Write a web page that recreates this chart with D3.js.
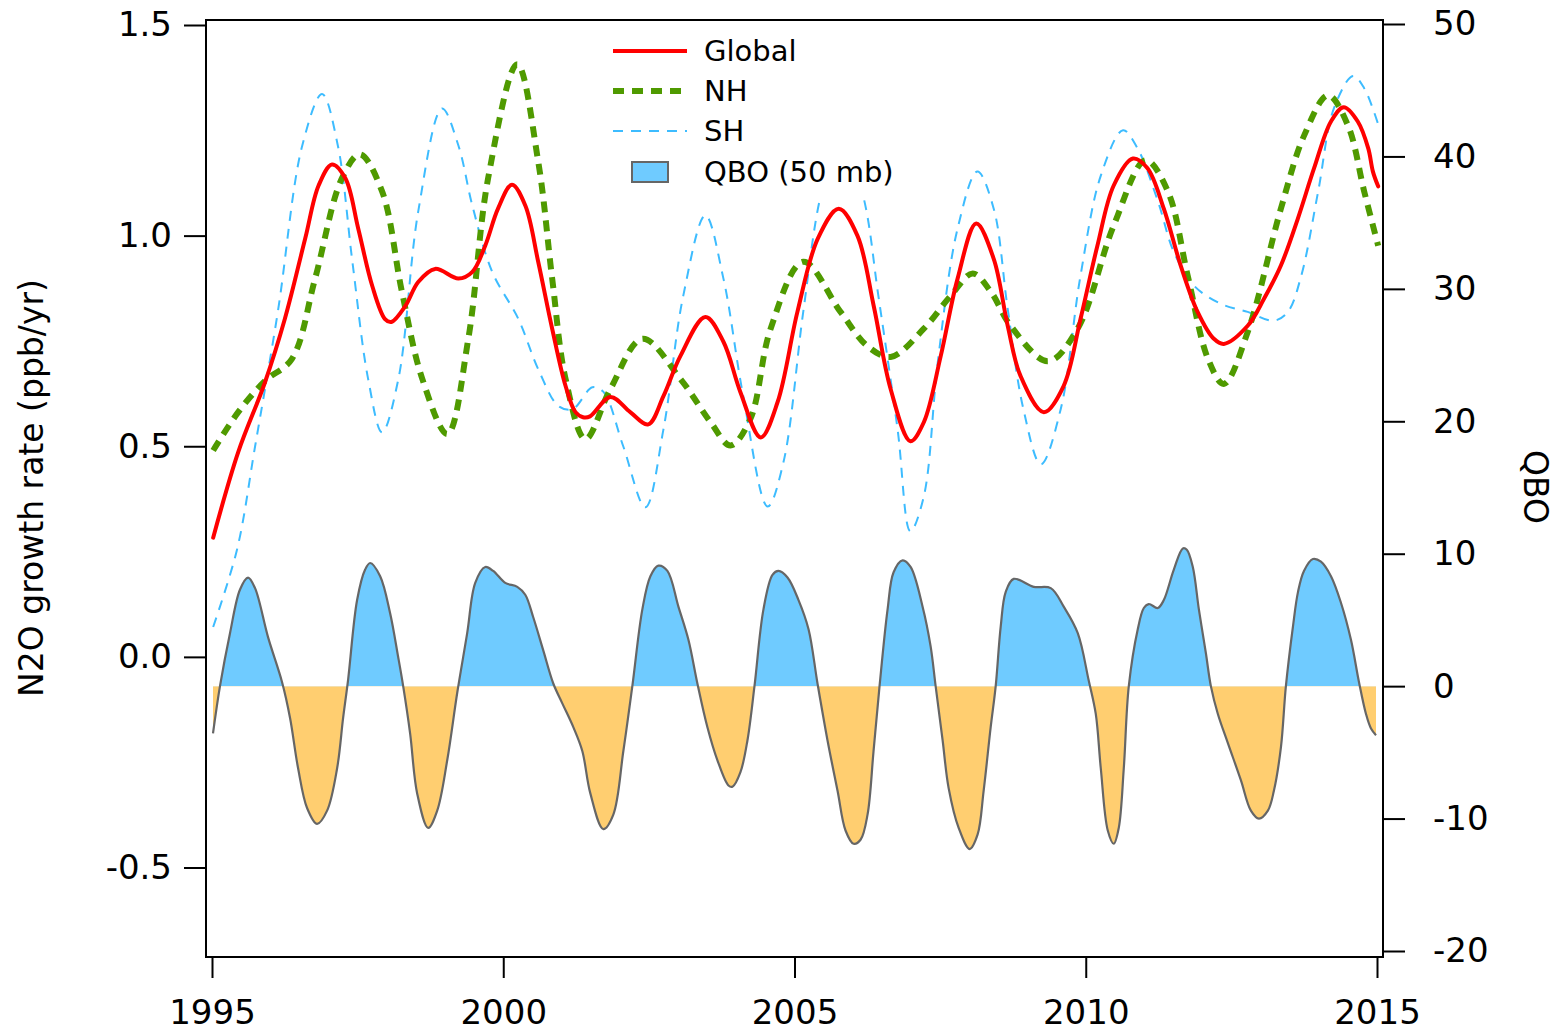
<!DOCTYPE html>
<html>
<head>
<meta charset="utf-8">
<script src="https://cdn.jsdelivr.net/npm/d3@7"></script>
<style>
  html, body { margin: 0; padding: 0; background: #fff; }
  svg { display: block; }
  text { font-family: "DejaVu Sans", sans-serif; fill: #000; }
</style>
</head>
<body>
<svg id="chart" width="1559" height="1035"></svg>
<script>
// ---------------- DATA ----------------
const xTicks = [1995, 2000, 2005, 2010, 2015];
const leftTicks = [-0.5, 0.0, 0.5, 1.0, 1.5];
const rightTicks = [-20, -10, 0, 10, 20, 30, 40, 50];

const globalYears = [1995.02,1995.45,1995.91,1996.25,1996.60,1996.83,1997.06,1997.29,1997.51,1997.75,1997.97,1998.08,1998.32,1998.54,1998.83,1999.23,1999.47,1999.69,1999.91,2000.15,2000.38,2000.60,2000.84,2001.07,2001.24,2001.37,2001.49,2001.84,2002.18,2002.49,2002.75,2003.04,2003.47,2003.78,2004.07,2004.42,2004.71,2005.05,2005.40,2005.76,2006.08,2006.36,2006.65,2006.99,2007.22,2007.51,2007.80,2008.12,2008.42,2008.66,2008.88,2009.28,2009.62,2009.91,2010.20,2010.48,2010.81,2011.06,2011.34,2011.63,2011.92,2012.20,2012.37,2012.78,2013.06,2013.35,2013.64,2013.92,2014.21,2014.43,2014.67,2014.85,2014.93,2015.02];
const globalValues = [0.283,0.486,0.652,0.802,0.993,1.119,1.169,1.136,1.017,0.881,0.802,0.795,0.833,0.89,0.921,0.898,0.914,0.976,1.064,1.121,1.071,0.938,0.779,0.643,0.581,0.569,0.571,0.617,0.581,0.552,0.619,0.714,0.807,0.748,0.629,0.521,0.605,0.819,0.993,1.064,1.0,0.833,0.636,0.512,0.557,0.714,0.898,1.029,0.945,0.786,0.667,0.581,0.643,0.802,0.976,1.119,1.183,1.16,1.064,0.929,0.819,0.755,0.743,0.786,0.85,0.929,1.04,1.16,1.271,1.305,1.271,1.207,1.152,1.117];

const nhYears = [1995.02,1995.45,1995.91,1996.37,1996.77,1997.23,1997.54,1997.92,1998.26,1998.61,1999.04,1999.40,1999.74,2000.24,2000.60,2000.84,2001.07,2001.41,2001.84,2002.39,2003.04,2003.56,2003.90,2004.24,2004.59,2005.15,2005.79,2006.25,2006.65,2007.22,2007.68,2008.06,2008.37,2008.71,2009.35,2009.86,2010.48,2011.03,2011.41,2011.75,2012.10,2012.37,2012.78,2013.35,2013.75,2014.16,2014.50,2014.78,2015.02];
const nhValues = [0.49,0.581,0.655,0.707,0.898,1.136,1.193,1.105,0.867,0.66,0.529,0.755,1.136,1.407,1.176,0.898,0.66,0.517,0.636,0.755,0.66,0.557,0.502,0.564,0.779,0.938,0.819,0.738,0.712,0.779,0.857,0.91,0.867,0.786,0.702,0.779,1.024,1.179,1.105,0.905,0.707,0.648,0.771,1.064,1.238,1.333,1.262,1.105,0.976];

const shYears = [1995.02,1995.43,1995.74,1996.13,1996.55,1996.89,1997.16,1997.41,1997.68,1997.92,1998.20,1998.54,1998.95,1999.23,1999.47,1999.81,2000.26,2000.60,2000.95,2001.19,2001.53,2001.72,2002.06,2002.44,2002.75,2003.09,2003.47,2003.78,2004.12,2004.54,2004.81,2005.15,2005.45,2005.81,2006.19,2006.44,2006.77,2006.99,2007.22,2007.46,2007.80,2008.14,2008.42,2008.66,2008.93,2009.23,2009.57,2009.91,2010.26,2010.64,2010.89,2011.24,2011.51,2011.86,2012.32,2012.78,2013.23,2013.47,2013.70,2013.99,2014.26,2014.59,2014.78,2015.03];
const shValues = [0.071,0.255,0.5,0.819,1.214,1.336,1.214,0.938,0.66,0.533,0.66,1.057,1.302,1.214,1.071,0.914,0.802,0.683,0.595,0.588,0.64,0.629,0.5,0.355,0.54,0.857,1.048,0.898,0.619,0.357,0.462,0.819,1.095,1.25,1.088,0.857,0.54,0.298,0.381,0.7,1.017,1.152,1.064,0.826,0.588,0.457,0.588,0.905,1.143,1.25,1.207,1.081,0.962,0.881,0.838,0.819,0.798,0.819,0.905,1.105,1.302,1.379,1.35,1.26];

const qboYears = [1995.017,1995.137,1995.309,1995.481,1995.619,1995.739,1995.962,1996.203,1996.340,1996.478,1996.632,1996.804,1996.976,1997.148,1997.251,1997.337,1997.491,1997.629,1997.715,1997.887,1998.058,1998.196,1998.282,1998.402,1998.522,1998.711,1998.866,1999.038,1999.210,1999.381,1999.519,1999.691,1999.828,2000.034,2000.241,2000.378,2000.515,2000.687,2000.859,2001.014,2001.203,2001.357,2001.495,2001.718,2001.890,2002.062,2002.216,2002.388,2002.526,2002.663,2002.818,2003.007,2003.179,2003.333,2003.505,2003.677,2003.866,2003.935,2004.072,2004.192,2004.313,2004.467,2004.622,2004.725,2004.880,2005.069,2005.241,2005.395,2005.567,2005.739,2005.876,2006.014,2006.134,2006.254,2006.357,2006.460,2006.598,2006.701,2006.856,2006.993,2007.199,2007.337,2007.423,2007.543,2007.646,2007.818,2008.007,2008.144,2008.247,2008.368,2008.454,2008.540,2008.625,2008.763,2009.107,2009.399,2009.622,2009.863,2010.052,2010.172,2010.258,2010.378,2010.481,2010.567,2010.653,2010.739,2010.893,2010.997,2011.082,2011.237,2011.340,2011.512,2011.667,2011.735,2011.838,2011.942,2012.062,2012.148,2012.268,2012.440,2012.663,2012.835,2012.973,2013.127,2013.230,2013.351,2013.436,2013.557,2013.643,2013.746,2013.900,2014.038,2014.210,2014.381,2014.553,2014.691,2014.811,2014.897,2014.983];
const qboValues = [-3.57,0,4.0,7.3,8.2,7.4,3.7,0.3,-2.4,-6.2,-9.2,-10.4,-9.4,-6.2,-2.4,0.5,6.5,8.8,9.3,8.3,5.5,2.2,0,-3.6,-8.1,-10.7,-9.4,-5.6,-0.5,4.0,7.8,9.0,8.7,7.8,7.5,6.9,5.2,2.7,0.2,-1.3,-3.1,-4.9,-8.1,-10.8,-9.7,-4.9,0,5.8,8.3,9.1,8.7,6.0,3.5,0.2,-3.1,-5.6,-7.5,-7.6,-6.5,-4.1,0,5.8,8.4,8.7,8.2,6.5,4.3,0.2,-4.1,-7.9,-10.9,-11.9,-11.6,-9.7,-4.9,0,5.8,8.6,9.5,9.0,6.0,3.0,0,-4.1,-7.7,-10.7,-12.3,-11.2,-7.9,-3.1,0,4.5,7.1,8.1,7.5,7.4,6.0,4.0,0.4,-2.1,-6.2,-10.9,-11.9,-10.7,-6.2,0,4.3,5.9,6.2,5.9,6.5,8.8,10.4,10.3,9.0,5.8,2.5,0,-2.1,-4.3,-7.1,-9.4,-10.0,-9.4,-7.9,-4.6,0,4.5,7.1,8.7,9.6,9.4,8.3,6.3,3.5,0.3,-2.1,-3.2,-3.7];

const legendLabels = ["Global", "NH", "SH", "QBO (50 mb)"];

// ---------------- CHART ----------------
const svg = d3.select("#chart");
const frame = {left: 206, right: 1383, top: 20, bottom: 957};

const x = d3.scaleLinear().domain([1995, 2015]).range([212, 1377]);
const yL = d3.scaleLinear().domain([-0.5, 1.5]).range([867.5, 25]);
const yR = d3.scaleLinear().domain([-20, 50]).range([951, 24]);

const colors = {global: "#ff0000", nh: "#4f9a00", sh: "#3dbcff", qboPos: "#6fcbff", qboNeg: "#ffce70", qboLine: "#666666"};
const smooth = d3.curveCatmullRom.alpha(0.5);

const defs = svg.append("defs");
defs.append("clipPath").attr("id", "plotClip").append("rect")
  .attr("x", frame.left).attr("y", frame.top)
  .attr("width", frame.right - frame.left).attr("height", frame.bottom - frame.top);
defs.append("clipPath").attr("id", "posClip").append("rect")
  .attr("x", frame.left).attr("y", frame.top)
  .attr("width", frame.right - frame.left).attr("height", yR(0) - frame.top);
defs.append("clipPath").attr("id", "negClip").append("rect")
  .attr("x", frame.left).attr("y", yR(0))
  .attr("width", frame.right - frame.left).attr("height", frame.bottom - yR(0));

const plot = svg.append("g").attr("clip-path", "url(#plotClip)");

// QBO fill
const qbo = qboYears.map((d, i) => ({x: d, v: qboValues[i]}));
const qboArea = d3.area().x(d => x(d.x)).y0(yR(0)).y1(d => yR(d.v)).curve(smooth);
const qboLine = d3.line().x(d => x(d.x)).y(d => yR(d.v)).curve(smooth);
plot.append("path").datum(qbo).attr("d", qboArea).attr("fill", colors.qboPos).attr("clip-path", "url(#posClip)");
plot.append("path").datum(qbo).attr("d", qboArea).attr("fill", colors.qboNeg).attr("clip-path", "url(#negClip)");
plot.append("path").datum(qbo).attr("d", qboLine).attr("fill", "none")
  .attr("stroke", colors.qboLine).attr("stroke-width", 2.2).attr("stroke-linejoin", "round");

// N2O series
const lineL = d3.line().x(d => x(d.x)).y(d => yL(d.v)).curve(smooth);
const toPts = (xs, vs) => xs.map((d, i) => ({x: d, v: vs[i]}));

plot.append("path").datum(toPts(shYears, shValues)).attr("d", lineL)
  .attr("fill", "none").attr("stroke", colors.sh).attr("stroke-width", 2)
  .attr("stroke-dasharray", "10,8");
plot.append("path").datum(toPts(nhYears, nhValues)).attr("d", lineL)
  .attr("fill", "none").attr("stroke", colors.nh).attr("stroke-width", 6)
  .attr("stroke-dasharray", "11,8");
plot.append("path").datum(toPts(globalYears, globalValues)).attr("d", lineL)
  .attr("fill", "none").attr("stroke", colors.global).attr("stroke-width", 4)
  .attr("stroke-linejoin", "round").attr("stroke-linecap", "round");

// Legend (opaque background)
const lg = svg.append("g");
lg.append("rect").attr("x", 598).attr("y", 26).attr("width", 318).attr("height", 172).attr("fill", "#fff");
const legRows = [
  {y: 51, type: "line", color: colors.global, w: 4, dash: null},
  {y: 91, type: "line", color: colors.nh, w: 6, dash: "11,8"},
  {y: 131, type: "line", color: colors.sh, w: 2, dash: "10,8"},
  {y: 172, type: "box"}
];
legRows.forEach((r, i) => {
  if (r.type === "line") {
    const l = lg.append("line").attr("x1", 613).attr("x2", 687).attr("y1", r.y).attr("y2", r.y)
      .attr("stroke", r.color).attr("stroke-width", r.w);
    if (r.dash) l.attr("stroke-dasharray", r.dash);
  } else {
    lg.append("rect").attr("x", 632).attr("y", 162).attr("width", 36).attr("height", 20)
      .attr("fill", colors.qboPos).attr("stroke", colors.qboLine).attr("stroke-width", 2);
  }
  lg.append("text").attr("x", 704).attr("y", r.y + 10).attr("font-size", 29).text(legendLabels[i]);
});

// Frame
svg.append("rect").attr("x", frame.left).attr("y", frame.top)
  .attr("width", frame.right - frame.left).attr("height", frame.bottom - frame.top)
  .attr("fill", "none").attr("stroke", "#000").attr("stroke-width", 2);

// Axes
const axL = svg.append("g").attr("transform", `translate(${frame.left},0)`)
  .call(d3.axisLeft(yL).tickValues(leftTicks).tickSize(22).tickPadding(12)
    .tickFormat(d => (d < 0 ? "-" : "") + Math.abs(d).toFixed(1)));
const axR = svg.append("g").attr("transform", `translate(${frame.right},0)`)
  .call(d3.axisRight(yR).tickValues(rightTicks).tickSize(22).tickPadding(28)
    .tickFormat(d => (d < 0 ? "-" : "") + Math.abs(d)));
const axB = svg.append("g").attr("transform", `translate(0,${frame.bottom})`)
  .call(d3.axisBottom(x).tickValues(xTicks).tickFormat(d3.format("d")).tickSize(21).tickPadding(22));

[axL, axR, axB].forEach(a => {
  a.select(".domain").remove();
  a.selectAll(".tick line").attr("stroke", "#000").attr("stroke-width", 2);
  a.selectAll(".tick text").attr("font-family", "DejaVu Sans, sans-serif").attr("font-size", 34).attr("fill", "#000");
});

// Axis titles
svg.append("text").attr("transform", "translate(43,488) rotate(-90)")
  .attr("text-anchor", "middle").attr("font-size", 33).text("N2O growth rate (ppb/yr)");
svg.append("text").attr("transform", "translate(1524,487) rotate(90)")
  .attr("text-anchor", "middle").attr("font-size", 33).text("QBO");
</script>
</body>
</html>
